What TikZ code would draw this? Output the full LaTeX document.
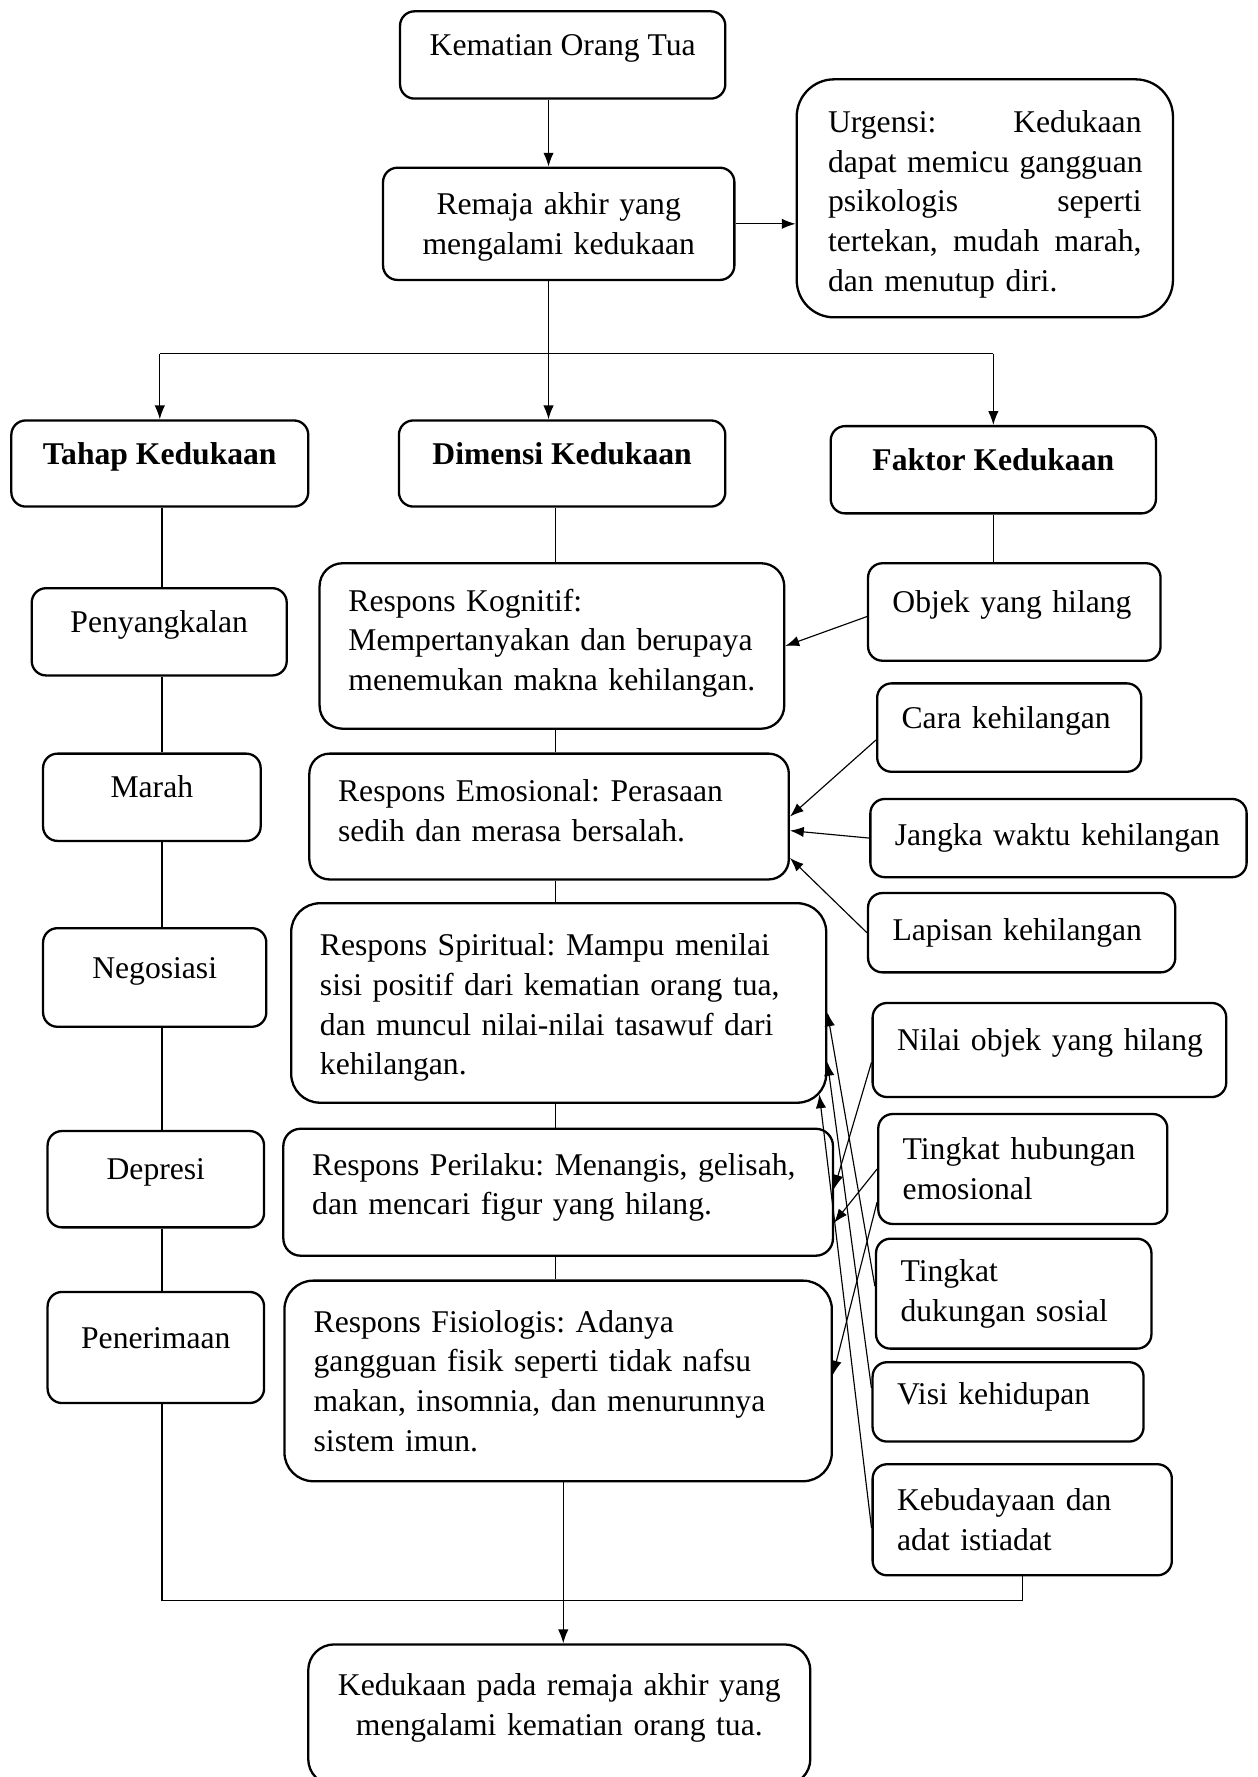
\documentclass[tikz,border=0pt]{standalone}
\usepackage{fontspec}
\setmainfont{Liberation Serif}
\usetikzlibrary{arrows.meta}
\frenchspacing

\newcommand{\fsize}{\fontsize{11}{13.8}\selectfont}

\begin{document}
\begin{tikzpicture}[x=0.394pt, y=-0.394pt,
  box/.style={draw, line width=0.8pt, rounded corners=5pt, font=\fsize},
  boxsize/.style 2 args={minimum width=#1*\Lu*1pt, minimum height=#2*\Lu*1pt},
  lift/.style={text height=7.5pt, text depth=#1}, lift/.default=7pt,
  head/.style={box, lift, font=\fsize\bfseries},
  fak/.style={box, align=left, inner xsep=8.5pt, text width=#1},
  resp/.style={box, align=left, inner xsep=10pt, text width=#1}]
\pgfmathsetmacro{\Lu}{0.394}

\useasboundingbox (0,0) rectangle (1110,1568);

\node (kematian) at (496.5,48.5) [box, boxsize={287}{77}, lift] {Kematian Orang Tua};
\node (remaja) at (493,197.5) [box, boxsize={310}{99}, align=center, text width=110pt, text depth=14.2pt] {Remaja akhir yang\\mengalami kedukaan};
\node (urgensi) at (869,175) [box, boxsize={332}{210}, rounded corners=13pt, align=left, text width=109pt, text depth=53.5pt] {Urgensi:\hfill Kedukaan\\\mbox{dapat memicu gangguan}\\psikologis\hfill seperti\\tertekan,\hfill mudah\hfill marah,\\dan menutup diri.};

\node (tahap) at (141,409) [head, boxsize={262}{76}] {Tahap Kedukaan};
\node (dimensi) at (496,409) [head, boxsize={288}{76}] {Dimensi Kedukaan};
\node (faktor) at (876.5,414.5) [head, boxsize={287}{77}] {Faktor Kedukaan};

\foreach \nm/\txt/\cx/\cy/\w/\h in {penyangkalan/Penyangkalan/140.5/557.5/225/77, marah/Marah/134/703.5/192/77, negosiasi/Negosiasi/136.5/862.5/197/87, depresi/Depresi/137.5/1040.5/191/85, penerimaan/Penerimaan/137.5/1189/191/98}
  \node (\nm) at (\cx,\cy) [box, boxsize={\w}{\h}, lift] {\txt};

\node (kognitif) at (487,570) [resp=141.5pt, boxsize={410}{146}, rounded corners=8pt, text depth=32pt] {Respons Kognitif:\\\mbox{Mempertanyakan dan berupaya}\\menemukan makna kehilangan.};
\node (emosional) at (484.5,720.5) [resp=146.7pt, boxsize={423}{111}, rounded corners=7pt, text depth=18pt] {Respons Emosional: Perasaan\\sedih dan merasa bersalah.};
\node (spiritual) at (493,885) [resp=166pt, boxsize={472}{176}, rounded corners=10pt, text depth=40.5pt] {Respons Spiritual: Mampu menilai\\sisi positif dari kematian orang tua,\\dan muncul nilai-nilai tasawuf dari\\kehilangan.};
\node (perilaku) at (492.5,1052) [resp=171pt, boxsize={485}{112}, rounded corners=6pt, text depth=19.5pt] {Respons Perilaku: Menangis, gelisah,\\dan mencari figur yang hilang.};
\node (fisiologis) at (492.5,1218.5) [resp=170pt, boxsize={483}{177}, rounded corners=10pt] {Respons Fisiologis: Adanya\\gangguan fisik seperti tidak nafsu\\makan, insomnia, dan menurunnya\\sistem imun.};
\node (akhir) at (493.5,1513) [box, boxsize={443}{124}, rounded corners=9pt, align=center, text width=160pt, text depth=21pt] {Kedukaan pada remaja akhir yang\\mengalami kematian orang tua.};

\node (objek) at (895,540) [fak=84.7pt, boxsize={258}{86}, lift] {\mbox{Objek yang hilang}};
\node (cara) at (890.5,642) [fak=74.8pt, boxsize={233}{78}, lift] {\mbox{Cara kehilangan}};
\node (jangka) at (934,739.5) [fak=113.8pt, boxsize={332}{69}] {\mbox{Jangka waktu kehilangan}};
\node (lapisan) at (901.5,823) [fak=89.8pt, boxsize={271}{70}] {\mbox{Lapisan kehilangan}};
\node (nilai) at (926,926.5) [fak=105.9pt, boxsize={312}{83}, lift] {\mbox{Nilai objek yang hilang}};
\node (hubungan) at (902.5,1031.5) [fak=83.5pt, boxsize={255}{97}] {Tingkat hubungan\\emosional};
\node (dukungan) at (894.5,1141.5) [fak=78.7pt, boxsize={243}{97}] {Tingkat\\dukungan sosial};
\node (visi) at (889.5,1237) [fak=77.2pt, boxsize={239}{70}, lift=6pt] {\mbox{Visi kehidupan}};
\node (kebudayaan) at (902,1341) [fak=87pt, boxsize={264}{98}] {Kebudayaan dan\\adat istiadat};

\coordinate (trunk) at (484,312);
\coordinate (spine) at (143,0);
\coordinate (mid) at (490,0);
\coordinate (base) at (497,1412);

\draw [-Latex] (kematian.south -| trunk) -- (remaja.north -| trunk);
\draw [-Latex] (remaja.east) -- (remaja.east -| urgensi.west);
\draw (remaja.south -| trunk) -- (trunk);
\draw (tahap.north |- trunk) -- (faktor.north |- trunk);
\draw [-Latex] (tahap.north |- trunk) -- (tahap.north);
\draw [-Latex] (trunk) -- (dimensi.north -| trunk);
\draw [-Latex] (faktor.north |- trunk) -- (faktor.north);

\foreach \a/\b in {tahap/penyangkalan, penyangkalan/marah, marah/negosiasi, negosiasi/depresi, depresi/penerimaan}
  \draw (\a.south -| spine) -- (\b.north -| spine);
\foreach \a/\b in {dimensi/kognitif, kognitif/emosional, emosional/spiritual, spiritual/perilaku, perilaku/fisiologis}
  \draw (\a.south -| mid) -- (\b.north -| mid);
\draw (faktor.south) -- (faktor.south |- objek.north);

\draw (penerimaan.south -| spine) |- (kebudayaan.south |- base) -- (kebudayaan.south);
\draw [-Latex] (fisiologis.south -| base) -- (akhir.north -| base);

\draw [-Latex] ([yshift=-1.6pt]objek.west) -- (kognitif.east);
\draw [-Latex] ([yshift=-4.3pt]cara.west) -- (emosional.east);
\draw [-Latex] (jangka.west) -- ([yshift=-4.9pt]emosional.east);
\draw [-Latex] (lapisan.west) -- ([yshift=-14.4pt]emosional.east);
\draw [-Latex] ([yshift=-4.3pt]nilai.west) -- ([yshift=1.2pt]perilaku.east);
\draw [-Latex] (hubungan.west) -- ([yshift=-10.6pt]perilaku.east);
\draw [-Latex] ([yshift=-11.5pt]hubungan.west) -- ([yshift=2.2pt]fisiologis.east);
\draw [-Latex] ([yshift=2.6pt]dukungan.west) -- ([yshift=-3.3pt]spiritual.east);
\draw [-Latex] ([yshift=4.8pt]visi.west) -- ([yshift=-20.5pt]spiritual.east);
\draw [-Latex] ([yshift=-2.8pt]kebudayaan.west) -- ([xshift=-2.8pt, yshift=3.3pt]spiritual.south east);
\end{tikzpicture}
\end{document}
